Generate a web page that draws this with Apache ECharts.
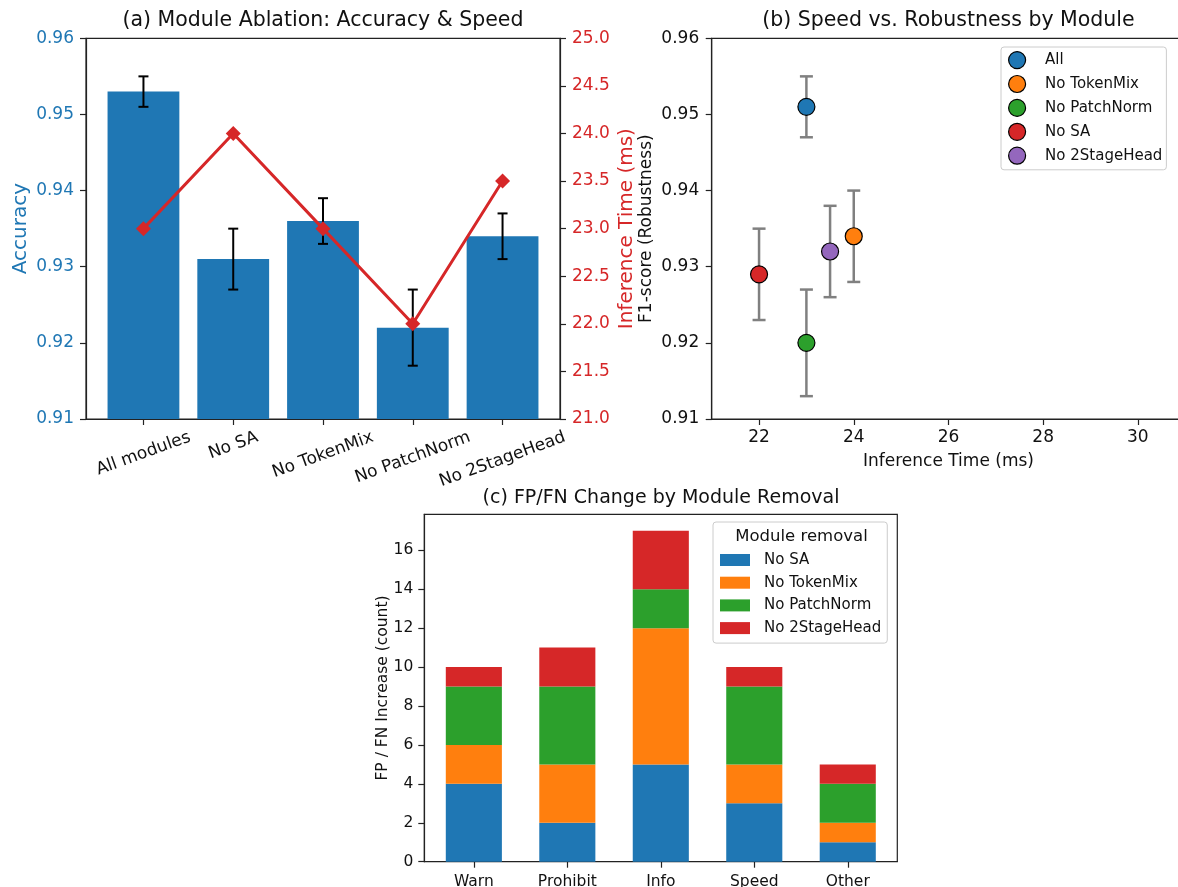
<!DOCTYPE html>
<html>
<head>
<meta charset="utf-8">
<title>Module ablation</title>
<script src="https://cdn.jsdelivr.net/npm/echarts@6/dist/echarts.min.js"></script>
<style>
  html, body { margin: 0; padding: 0; background: #ffffff; }
  #chart { width: 1178px; height: 887px; }
</style>
</head>
<body>
<div id="chart"></div>
<script>
// ---- (a) module ablation: accuracy bars + inference time line ----
const modules = ['All modules', 'No SA', 'No TokenMix', 'No PatchNorm', 'No 2StageHead'];
const accuracy = [0.953, 0.931, 0.936, 0.922, 0.934];
const accuracyErr = [0.002, 0.004, 0.003, 0.005, 0.003];
const inferenceMs = [23.0, 24.0, 23.0, 22.0, 23.5];
const accTicks = [0.91, 0.92, 0.93, 0.94, 0.95, 0.96];
const timeTicks = [21.0, 21.5, 22.0, 22.5, 23.0, 23.5, 24.0, 24.5, 25.0];

// ---- (b) speed vs robustness ----
const robustNames = ['All', 'No TokenMix', 'No PatchNorm', 'No SA', 'No 2StageHead'];
const robustTime = [23.0, 24.0, 23.0, 22.0, 23.5];
const robustF1 = [0.951, 0.934, 0.920, 0.929, 0.932];
const robustErr = [0.004, 0.006, 0.007, 0.006, 0.006];
const f1Ticks = [0.91, 0.92, 0.93, 0.94, 0.95, 0.96];
const msTicks = [22, 24, 26, 28, 30];

// ---- (c) FP/FN increase per sign class ----
const signCats = ['Warn', 'Prohibit', 'Info', 'Speed', 'Other'];
const removalNames = ['No SA', 'No TokenMix', 'No PatchNorm', 'No 2StageHead'];
const fpfnNoSA = [4, 2, 5, 3, 1];
const fpfnNoTokenMix = [2, 3, 7, 2, 1];
const fpfnNoPatchNorm = [3, 4, 2, 4, 2];
const fpfnNo2StageHead = [1, 2, 3, 1, 1];
const countTicks = [0, 2, 4, 6, 8, 10, 12, 14, 16];

// ---- styling ----
const FONT = '"DejaVu Sans", sans-serif';
const C = { blue: '#1f77b4', orange: '#ff7f0e', green: '#2ca02c', red: '#d62728', purple: '#9467bd' };
const robustColors = [C.blue, C.orange, C.green, C.red, C.purple];
const removalColors = [C.blue, C.orange, C.green, C.red];
const SPINE = { color: '#222222', width: 1.2 };
const INK = '#111111';
const BAR_FRACTION_C = 0.6;   // bar width in category units, panel (c)

// rotated category labels: keep the rotated box top aligned under the axis
const ROT = 20 * Math.PI / 180;
const measureCtx = document.createElement('canvas').getContext('2d');
measureCtx.font = '17px "DejaVu Sans"';
const labelW = modules.map(s => measureCtx.measureText(s).width);
const labelWMin = Math.min.apply(null, labelW);
const moduleRich = {};
modules.forEach((s, i) => {
  const d = (labelW[i] - labelWMin) * Math.sin(ROT) / 2;
  moduleRich['m' + i] = {
    fontFamily: FONT, fontSize: 17, color: INK,
    padding: [2 * d * Math.cos(ROT), 2 * d * Math.sin(ROT), 0, 0]
  };
});

function axisBase(extra) {
  return Object.assign({
    type: 'value',
    splitLine: { show: false },
    axisLine: { show: true, onZero: false, lineStyle: SPINE },
    nameMoveOverlap: false
  }, extra);
}
function ticks(values) {
  return { show: true, inside: false, length: 6, customValues: values, lineStyle: SPINE };
}

// vertical error bar with caps, positioned by the axes of the series
function errorBars(capPx, color, width) {
  return function (params, api) {
    const x = api.value(0), lo = api.value(1), hi = api.value(2);
    const a = api.coord([x, lo]);
    const b = api.coord([x, hi]);
    const h = capPx / 2;
    const st = { stroke: color, lineWidth: width };
    return {
      type: 'group',
      children: [
        { type: 'line', shape: { x1: a[0], y1: a[1], x2: b[0], y2: b[1] }, style: st },
        { type: 'line', shape: { x1: a[0] - h, y1: a[1], x2: a[0] + h, y2: a[1] }, style: st },
        { type: 'line', shape: { x1: b[0] - h, y1: b[1], x2: b[0] + h, y2: b[1] }, style: st }
      ]
    };
  };
}

// stacked bar segment [x, bottom, top]
function stackSegment(color) {
  return function (params, api) {
    const x = api.value(0), y0 = api.value(1), y1 = api.value(2);
    const p0 = api.coord([x, y0]);
    const p1 = api.coord([x, y1]);
    const w = api.size([BAR_FRACTION_C, 0])[0];
    return {
      type: 'rect',
      shape: { x: p0[0] - w / 2, y: p1[1], width: w, height: p0[1] - p1[1] },
      style: { fill: color }
    };
  };
}

const modIdx = modules.map((_, i) => i);
const signIdx = signCats.map((_, i) => i);
const fpfnSeries = [fpfnNoSA, fpfnNoTokenMix, fpfnNoPatchNorm, fpfnNo2StageHead];
// running totals below each removal layer
const fpfnBase = fpfnSeries.map((_, k) =>
  signIdx.map(i => fpfnSeries.slice(0, k).reduce((s, arr) => s + arr[i], 0)));

const chart = echarts.init(document.getElementById('chart'), null, { renderer: 'canvas' });

const option = {
  animation: false,
  backgroundColor: '#ffffff',
  textStyle: { fontFamily: FONT },
  grid: [
    { left: 86, top: 38.3, width: 474, height: 380.7, show: true, borderColor: SPINE.color, borderWidth: SPINE.width, outerBoundsMode: 'none', containLabel: false },
    { left: 711.7, top: 38.3, width: 473.5, height: 380.7, show: true, borderColor: SPINE.color, borderWidth: SPINE.width, outerBoundsMode: 'none', containLabel: false },
    { left: 424.3, top: 514.3, width: 473, height: 347.4, show: true, borderColor: SPINE.color, borderWidth: SPINE.width, outerBoundsMode: 'none', containLabel: false }
  ],
  xAxis: [
    axisBase({
      gridIndex: 0, min: -0.64, max: 4.64,
      axisTick: ticks(modIdx),
      axisLabel: {
        customValues: modIdx, rotate: 20, align: 'center', verticalAlign: 'middle', margin: 26.5,
        formatter: v => { const i = Math.round(v); return '{m' + i + '|' + modules[i] + '}'; },
        rich: moduleRich
      }
    }),
    axisBase({
      gridIndex: 1, min: 21, max: 31,
      axisTick: ticks(msTicks),
      axisLabel: { customValues: msTicks, margin: 10, fontFamily: FONT, fontSize: 17, color: INK },
      name: 'Inference Time (ms)', nameLocation: 'middle', nameGap: 34.5,
      nameTextStyle: { fontFamily: FONT, fontSize: 17, color: INK }
    }),
    axisBase({
      gridIndex: 2, min: -0.53, max: 4.53,
      axisTick: ticks(signIdx),
      axisLabel: {
        customValues: signIdx, margin: 12, fontFamily: FONT, fontSize: 15.5, color: INK,
        formatter: v => signCats[Math.round(v)]
      }
    })
  ],
  yAxis: [
    axisBase({
      gridIndex: 0, min: 0.91, max: 0.96,
      axisTick: ticks(accTicks),
      axisLabel: { customValues: accTicks, margin: 12, fontFamily: FONT, fontSize: 17, color: C.blue, formatter: v => v.toFixed(2) },
      name: 'Accuracy', nameLocation: 'middle', nameGap: 55.6,
      nameTextStyle: { fontFamily: FONT, fontSize: 20, color: C.blue }
    }),
    axisBase({
      gridIndex: 0, position: 'right', min: 21, max: 25,
      axisTick: ticks(timeTicks),
      axisLabel: { customValues: timeTicks, margin: 12, fontFamily: FONT, fontSize: 17, color: C.red, formatter: v => v.toFixed(1) },
      name: 'Inference Time (ms)', nameLocation: 'middle', nameGap: 57,
      nameTextStyle: { fontFamily: FONT, fontSize: 20, color: C.red }
    }),
    axisBase({
      gridIndex: 1, min: 0.91, max: 0.96,
      axisTick: ticks(f1Ticks),
      axisLabel: { customValues: f1Ticks, margin: 12.5, fontFamily: FONT, fontSize: 17, color: INK, formatter: v => v.toFixed(2) },
      name: 'F1-score (Robustness)', nameLocation: 'middle', nameGap: 56.7,
      nameTextStyle: { fontFamily: FONT, fontSize: 17, color: INK }
    }),
    axisBase({
      gridIndex: 2, min: 0, max: 17.85,
      axisTick: ticks(countTicks),
      axisLabel: { customValues: countTicks, margin: 11, fontFamily: FONT, fontSize: 15.5, color: INK },
      name: 'FP / FN Increase (count)', nameLocation: 'middle', nameGap: 33.7,
      nameTextStyle: { fontFamily: FONT, fontSize: 15.5, color: INK }
    })
  ],
  legend: [
    {
      data: robustNames.map((name, i) => ({
        name: name, icon: 'circle',
        itemStyle: { color: robustColors[i], borderColor: '#000000', borderWidth: 1.2 }
      })),
      orient: 'vertical', left: 1001, top: 47,
      itemWidth: 30, itemHeight: 17, itemGap: 5.7,
      padding: [4, 4, 5, 7],
      backgroundColor: 'rgba(255,255,255,0.85)', borderColor: '#cccccc', borderWidth: 1, borderRadius: 3,
      selectedMode: false,
      textStyle: { fontFamily: FONT, fontSize: 15, color: INK, lineHeight: 17, padding: [0, 0, 0, 8] }
    },
    {
      data: removalNames.map((name, k) => ({
        name: name, icon: 'rect',
        itemStyle: { color: removalColors[k], borderWidth: 0 }
      })),
      orient: 'vertical', left: 713, top: 522,
      itemWidth: 30, itemHeight: 12, itemGap: 5.7,
      padding: [29.5, 6, 6.5, 7],
      backgroundColor: 'rgba(255,255,255,0.85)', borderColor: '#cccccc', borderWidth: 1, borderRadius: 3,
      selectedMode: false,
      textStyle: { fontFamily: FONT, fontSize: 15, color: INK, lineHeight: 17, padding: [0, 0, 0, 9] }
    }
  ],
  graphic: [
    { type: 'text', x: 323, y: 21, z: 100, style: { text: '(a) Module Ablation: Accuracy & Speed', fontFamily: FONT, fontSize: 20.5, fill: INK, align: 'center', verticalAlign: 'middle' } },
    { type: 'text', x: 948.4, y: 21, z: 100, style: { text: '(b) Speed vs. Robustness by Module', fontFamily: FONT, fontSize: 20.5, fill: INK, align: 'center', verticalAlign: 'middle' } },
    { type: 'text', x: 661, y: 498.4, z: 100, style: { text: '(c) FP/FN Change by Module Removal', fontFamily: FONT, fontSize: 19, fill: INK, align: 'center', verticalAlign: 'middle' } },
    { type: 'text', x: 801.5, y: 536.5, z: 100, style: { text: 'Module removal', fontFamily: FONT, fontSize: 16.5, fill: INK, align: 'center', verticalAlign: 'middle' } }
  ],
  series: [
    // (a)
    {
      type: 'bar', name: 'Accuracy', xAxisIndex: 0, yAxisIndex: 0, clip: true, z: 2,
      data: modIdx.map(i => [i, accuracy[i]]),
      barWidth: 71.8, itemStyle: { color: C.blue }
    },
    {
      type: 'custom', name: 'Accuracy error', xAxisIndex: 0, yAxisIndex: 0, z: 3,
      data: modIdx.map(i => [i, accuracy[i] - accuracyErr[i], accuracy[i] + accuracyErr[i]]),
      encode: { x: 0, y: [1, 2] },
      renderItem: errorBars(10, '#000000', 2)
    },
    {
      type: 'line', name: 'Inference Time', xAxisIndex: 0, yAxisIndex: 1, z: 5,
      data: modIdx.map(i => [i, inferenceMs[i]]),
      symbol: 'diamond', symbolSize: 15, showSymbol: true,
      lineStyle: { color: C.red, width: 3 },
      itemStyle: { color: C.red }
    },
    // (b)
    {
      type: 'custom', name: 'F1 error', xAxisIndex: 1, yAxisIndex: 2, z: 2,
      data: robustNames.map((_, i) => [robustTime[i], robustF1[i] - robustErr[i], robustF1[i] + robustErr[i]]),
      encode: { x: 0, y: [1, 2] },
      renderItem: errorBars(13, '#808080', 2.5)
    }
  ].concat(robustNames.map((name, i) => ({
    type: 'scatter', name: name, xAxisIndex: 1, yAxisIndex: 2, z: 4,
    data: [[robustTime[i], robustF1[i]]],
    symbol: 'circle', symbolSize: 17,
    itemStyle: { color: robustColors[i], borderColor: '#000000', borderWidth: 1.2, opacity: 1 }
  }))).concat(removalNames.map((name, k) => ({
    // (c) one stacked layer per removed module
    type: 'custom', name: name, xAxisIndex: 2, yAxisIndex: 3, z: 2,
    data: signIdx.map(i => [i, fpfnBase[k][i], fpfnBase[k][i] + fpfnSeries[k][i]]),
    encode: { x: 0, y: [1, 2] },
    itemStyle: { color: removalColors[k] },
    renderItem: stackSegment(removalColors[k])
  })))
};

chart.setOption(option);
</script>
</body>
</html>
